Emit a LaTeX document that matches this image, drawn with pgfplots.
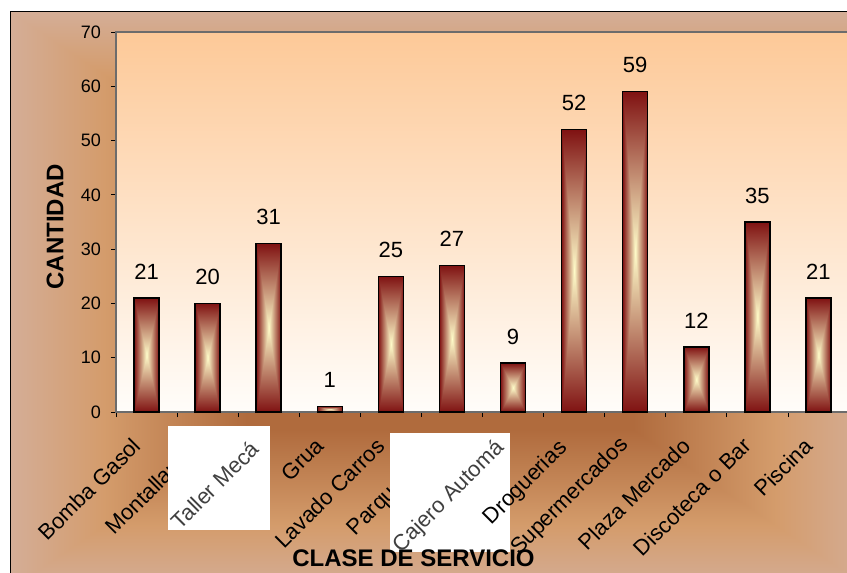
\documentclass[border=0pt]{standalone}
\usepackage{pgfplots}
\pgfplotsset{compat=1.18}
\usepackage{fontspec}
\setmainfont{Liberation Sans}

\definecolor{plottop}{RGB}{253,201,152}
\definecolor{plotbot}{RGB}{255,253,250}

% bars: dark red at the rim, cream in the middle (Excel "from centre")
\pgfdeclarefunctionalshading{barshade}{\pgfpoint{0bp}{0bp}}{\pgfpoint{100bp}{100bp}}{}{
  50 sub abs 25 div exch 50 sub abs 25 div
  2 copy lt {exch} if pop
  dup 1 gt {pop 1} if
  dup 0.50 mul 1.00 exch sub
  exch dup 0.92 mul 0.99 exch sub
  exch 0.72 mul 0.79 exch sub
}

% chart area: brown in the middle, orange, then greyish tan at the rim
\pgfdeclarefunctionalshading{chartshade}{\pgfpoint{0bp}{0bp}}{\pgfpoint{100bp}{100bp}}{}{
  50 sub abs 25 div exch 50 sub abs 25 div
  2 copy lt {exch} if pop
  dup 0.78 lt {
    0.45 sub 0.33 div dup 0 lt {pop 0} if
    dup 0.14 mul 0.69 add exch
    dup 0.19 mul 0.42 add exch
    0.18 mul 0.24 add
  }{
    0.78 sub 0.22 div dup 1 gt {pop 1} if
    dup 0.00 mul 0.83 add exch
    dup 0.07 mul 0.61 add exch
    0.17 mul 0.42 add
  } ifelse
}

\pgfplotsset{bar/.style={draw=black, line width=1.5bp, shade, shading=barshade}}
\tikzset{catlabel/.style={rotate=45, anchor=east, inner sep=0pt, font=\fontsize{22bp}{24bp}\selectfont}}

\begin{document}
\begin{tikzpicture}
\path[use as bounding box, clip] (-116bp,-161bp) rectangle (731bp,412bp);
\fill[white] (-116bp,-161bp) rectangle (731bp,412bp);
\shade[shading=chartshade, draw=black, line width=1bp] (-105bp,-176bp) rectangle (753bp,400bp);

\begin{axis}[
  at={(0,0)}, anchor=south west,
  width=733bp, height=380bp, scale only axis,
  ymin=0, ymax=70, ytick={0,10,...,70},
  xmin=-0.5, xmax=11.5,
  xtick={0,...,11},
  % 2, 6 and 7 are set below, over the white patches
  xticklabels={Bomba Gasol, Montallantas, , Grua, Lavado Carros, Parqueadero, , , Supermercados, Plaza Mercado, Discoteca o Bar, Piscina},
  minor xtick={-0.5,0.5,...,11.5},
  major x tick style={draw=none},
  tick align=outside, tick pos=left,
  major tick length=5bp, minor tick length=5bp,
  tick style={black, line width=0.8bp},
  axis line style={gray!85!black, line width=1.2bp},
  axis background/.style={top color=plottop, bottom color=plotbot},
  /pgf/number format/assume math mode=true,
  yticklabel style={font=\fontsize{18bp}{20bp}\selectfont, inner sep=0pt, xshift=-10bp},
  xticklabel style={font=\fontsize{22bp}{24bp}\selectfont, xshift=-10bp, yshift=-25bp,
    rotate=45, anchor=east, inner sep=0pt},
  ylabel={CANTIDAD},
  every axis y label/.style={at={(axis description cs:-0.083,0.487)}, anchor=center, rotate=90,
    font=\bfseries\fontsize{24bp}{28bp}\selectfont},
  ybar, bar width=25bp, bar shift=0pt,
  nodes near coords,
  nodes near coords style={font=\fontsize{22bp}{26bp}\selectfont, black, anchor=south, inner sep=0pt, yshift=18bp},
]
% one plot per bar, so that each bar gets its own gradient
\addplot[bar] coordinates {(0,21)};
\addplot[bar] coordinates {(1,20)};
\addplot[bar] coordinates {(2,31)};
\addplot[bar] coordinates {(3,1)};
\addplot[bar] coordinates {(4,25)};
\addplot[bar] coordinates {(5,27)};
\addplot[bar] coordinates {(6,9)};
\addplot[bar] coordinates {(7,52)};
\addplot[bar] coordinates {(8,59)};
\addplot[bar] coordinates {(9,12)};
\addplot[bar] coordinates {(10,35)};
\addplot[bar] coordinates {(11,21)};
\end{axis}

% white patches pasted over the category names
\fill[white] (52bp,-118bp) rectangle (154bp,-14bp);
\fill[white] (274bp,-140bp) rectangle (394bp,-21bp);
\node[catlabel, text=black!75] at (139bp,-33bp) {Taller Mecá};
\node[catlabel, text=black!75] at (385bp,-33bp) {Cajero Automá};
\node[catlabel] at (448bp,-33bp) {Droguerias};
\node[font=\bfseries\fontsize{24bp}{28bp}\selectfont] at (297.5bp,-146bp) {CLASE DE SERVICIO};
\end{tikzpicture}
\end{document}
